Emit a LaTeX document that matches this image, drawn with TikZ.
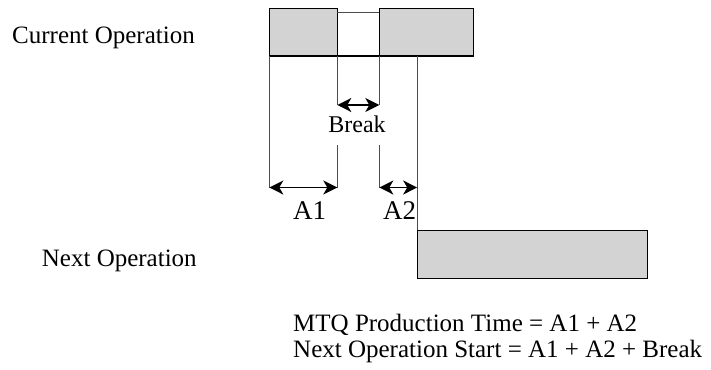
\documentclass[tikz,border=0pt]{standalone}
\usepackage{fontspec}
\setmainfont{Liberation Serif}
\usetikzlibrary{arrows.meta}
\definecolor{opgray}{RGB}{211,211,211}
\tikzset{
  opbox/.style={rectangle, fill=opgray, draw=black, line width=1.1pt, inner sep=0pt, outer sep=0pt, anchor=north west},
  guide/.style={line width=0.9pt, draw=black!70},
  span/.style={line width=1.2pt, draw=black, {Stealth[length=14pt,width=14pt,inset=4pt]}-{Stealth[length=14pt,width=14pt,inset=4pt]}},
  rowlabel/.style={font=\fontsize{25}{30}\selectfont, anchor=base west, inner sep=0pt},
  spanlabel/.style={font=\fontsize{24}{29}\selectfont, anchor=base, inner sep=0pt},
}

\begin{document}
\begin{tikzpicture}[x=1pt,y=-1pt]
\useasboundingbox (0,0) rectangle (711,369);
% current operation, split by the break
\node[opbox, minimum width=68pt, minimum height=47.7pt] (cur1) at (269.3,8.3) {};
\node[opbox, minimum width=94pt, minimum height=47.7pt] (cur2) at (379.3,8.3) {};
\draw[guide] (cur1.north east |- 0,12.3) -- (cur2.north west |- 0,12.3);
\draw[line width=1pt] (cur1.south east) -- (cur2.south west);
% next operation
\node[opbox, minimum width=230pt, minimum height=48pt] (nxt) at (417.2,230.3) {};
% dimension points
\coordinate (brkL) at (337.3,105);
\coordinate (brkR) at (379.3,105);
\coordinate (a1L) at (269.3,187.5);
\coordinate (a1R) at (337.3,187.5);
\coordinate (a2L) at (379.3,187.5);
\coordinate (a2R) at (417.2,187.5);
\coordinate (a1Rtop) at (337.3,145);
\coordinate (a2Ltop) at (379.3,145);
% guide lines
\draw[guide] (cur1.south west) -- (a1L);
\draw[guide] (cur1.south east) -- (brkL);
\draw[guide] (cur2.south west) -- (brkR);
\draw[guide] (a1Rtop) -- (a1R);
\draw[guide] (a2Ltop) -- (a2L);
\draw[guide] (nxt.north west |- cur2.south) -- (nxt.north west);
% spans
\draw[span] (brkL) -- (brkR);
\draw[span] (a1L) -- (a1R);
\draw[span] (a2L) -- (a2R);
\node[spanlabel] (brklbl) at (357,132) {Break};
\node[spanlabel, font=\fontsize{27}{32}\selectfont] (a1lbl) at (309.5,219) {A1};
\node[spanlabel, font=\fontsize{27}{32}\selectfont] (a2lbl) at (399.5,219) {A2};
% row names
\node[rowlabel] (curlbl) at (12,43.3) {Current Operation};
\node[rowlabel] (nxtlbl) at (41.7,266) {Next Operation};
% formulas
\node[rowlabel] (mtq) at (293,331) {MTQ Production Time = A1 + A2};
\node[rowlabel] (start) at (293,357) {Next Operation Start = A1 + A2 + Break};
\end{tikzpicture}
\end{document}
